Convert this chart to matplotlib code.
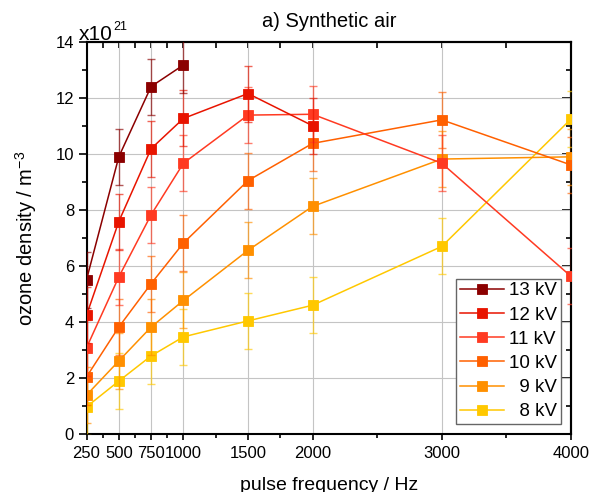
import matplotlib
matplotlib.use('Agg')
import matplotlib.pyplot as plt
from matplotlib.ticker import FixedLocator, NullFormatter

plt.rcParams['font.family'] = ['Liberation Sans', 'DejaVu Sans']
plt.rcParams['mathtext.fontset'] = 'custom'
plt.rcParams['mathtext.rm'] = 'Liberation Sans'
plt.rcParams['mathtext.it'] = 'Liberation Sans:italic'
plt.rcParams['mathtext.bf'] = 'Liberation Sans:bold'

# ---- data (ozone density in units of 1e21 m^-3) ----
freq = [250, 500, 750, 1000, 1500, 2000, 3000, 4000]
kv13 = [5.52, 9.91, 12.42, 13.19]
kv12 = [4.25, 7.60, 10.20, 11.28, 12.17, 11.02]
kv11 = [3.09, 5.62, 7.84, 9.68, 11.40, 11.43, 9.68, 5.64]
kv10 = [2.05, 3.83, 5.38, 6.83, 9.06, 10.39, 11.23, 9.62]
kv9 = [1.40, 2.62, 3.83, 4.78, 6.57, 8.14, 9.83, 9.91]
kv8 = [0.98, 1.90, 2.80, 3.48, 4.05, 4.61, 6.71, 11.26]
err13 = [1.0, 1.0, 1.0, 1.0]
err12 = [1.0, 1.0, 1.0, 1.0, 1.0, 1.0]
err11 = [1.0, 1.0, 1.0, 1.0, 1.0, 1.0, 1.0, 1.0]
err10 = [1.0, 1.0, 1.0, 1.0, 1.0, 1.0, 1.0, 1.0]
err9 = [1.0, 1.0, 1.0, 1.0, 1.0, 1.0, 1.0, 1.0]
err8 = [1.0, 1.0, 1.0, 1.0, 1.0, 1.0, 1.0, 1.0]
labels = ['13 kV', '12 kV', '11 kV', '10 kV', '\u20079 kV', '\u20078 kV']
colors = ['#8B0000', '#E81400', '#FF3A22', '#FF6000', '#FF9000', '#FFC800']

xticks_major = [250, 500, 750, 1000, 1500, 2000, 3000, 4000]
xticks_minor = [375, 625, 875, 1250, 1750, 2500, 3500]
yticks_major = [0, 2, 4, 6, 8, 10, 12, 14]
yticks_minor = [1, 3, 5, 7, 9, 11, 13]

series = [kv13, kv12, kv11, kv10, kv9, kv8]
errors = [err13, err12, err11, err10, err9, err8]

fig = plt.figure(figsize=(5.92, 4.92), dpi=100)
ax = fig.add_axes([86.5 / 592, (492 - 434.3) / 492, 484.5 / 592, 392 / 492])

handles = [None] * len(series)
# draw lowest voltage first so higher voltages lie on top
for i in reversed(range(len(series))):
    y = series[i]
    x = freq[:len(y)]
    ax.errorbar(x, y, yerr=errors[i], fmt='none', ecolor=colors[i],
                elinewidth=1.0, capsize=3.0, capthick=1.0, alpha=0.65,
                zorder=3 + (len(series) - i) * 0.1)
    h, = ax.plot(x, y, '-', marker='s', color=colors[i], lw=1.1,
                 markersize=7, markeredgewidth=0.6,
                 markeredgecolor=colors[i], label=labels[i],
                 zorder=3.05 + (len(series) - i) * 0.1)
    handles[i] = h

ax.set_xlim(250, 4000)
ax.set_ylim(0, 14)
ax.set_xticks(xticks_major)
ax.set_xticks(xticks_minor, minor=True)
ax.set_yticks(yticks_major)
ax.set_yticks(yticks_minor, minor=True)
ax.set_axisbelow(True)
ax.grid(True, which='major', color='#c4c4c4', lw=0.8)

for s in ax.spines.values():
    s.set_linewidth(1.5)

ax.tick_params(axis='both', which='both', direction='out', width=1.2,
               labelsize=12, colors='black')
ax.tick_params(axis='x', which='major', length=4.5, pad=4.0)
ax.tick_params(axis='x', which='minor', length=3)
ax.tick_params(axis='y', which='major', length=6, pad=3.0)
ax.tick_params(axis='y', which='minor', length=3.3)

# mirrored ticks (inward) on top and right
sx = ax.secondary_xaxis('top')
sx.set_xticks(xticks_major)
sx.xaxis.set_minor_locator(FixedLocator(xticks_minor))
sx.xaxis.set_major_formatter(NullFormatter())
sx.tick_params(which='both', direction='in', length=4, width=1.2)
sx.spines['top'].set_linewidth(1.5)

sy = ax.secondary_yaxis('right')
sy.set_yticks(yticks_major)
sy.yaxis.set_minor_locator(FixedLocator(yticks_minor))
sy.yaxis.set_major_formatter(NullFormatter())
sy.tick_params(which='major', direction='in', length=6.5, width=1.2)
sy.tick_params(which='minor', direction='in', length=3.5, width=1.2)
sy.spines['right'].set_linewidth(1.5)

ax.set_title('a) Synthetic air', fontsize=14.5, pad=11)
# axis multiplier label "x10^21"
t_base = fig.text(79 / 592, (492 - 39.5) / 492, 'x10', fontsize=15,
                  ha='left', va='baseline')
fig.canvas.draw()
bb = t_base.get_window_extent()
fig.text(bb.x1 / 592 + 0.5 / 592, (492 - 30) / 492, '21', fontsize=9,
         ha='left', va='baseline')

ax.set_xlabel('pulse frequency / Hz', fontsize=14)
ax.set_ylabel('ozone density / m$^{-3}$', fontsize=14.5)
ax.xaxis.set_label_coords(0.5, -0.11)
ax.yaxis.set_label_coords(-0.099, 0.5)

leg = ax.legend(handles, labels, loc='lower right', fontsize=13.5,
                frameon=True, fancybox=False, edgecolor='#666666',
                framealpha=1, borderpad=0.2, labelspacing=0.375,
                handlelength=2.35, handletextpad=0.27, borderaxespad=0.55)
leg.get_frame().set_linewidth(1.0)
leg.set_zorder(10)

fig.savefig('out.png', dpi=100)
